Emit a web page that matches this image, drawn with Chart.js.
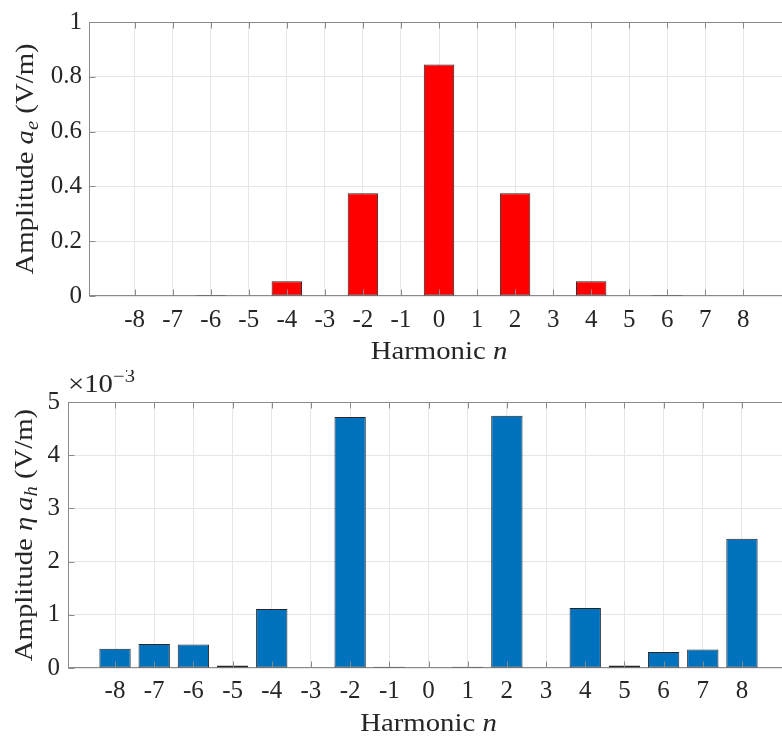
<!DOCTYPE html>
<html>
<head>
<meta charset="utf-8">
<title>Harmonic amplitudes</title>
<script src="https://cdn.jsdelivr.net/npm/chart.js@4.4.1/dist/chart.umd.min.js"></script>
<style>
  html, body { margin: 0; padding: 0; background: #ffffff; }
  #page { position: relative; width: 782px; height: 740px; overflow: hidden; }
  #page canvas { position: absolute; left: 0; }
  #electric { top: 0; }
  #magnetic { top: 370px; }
</style>
</head>
<body>
<div id="page">
  <canvas id="electric" width="800" height="370"></canvas>
  <canvas id="magnetic" width="800" height="370"></canvas>
</div>
<script>
// Harmonic orders shown on both panels
const harmonics = [-8, -7, -6, -5, -4, -3, -2, -1, 0, 1, 2, 3, 4, 5, 6, 7, 8];

// Electric amplitude a_e (V/m) per harmonic
const electricAmplitude = [0, 0, 0.004, 0, 0.054, 0, 0.375, 0, 0.845, 0, 0.375, 0, 0.054, 0, 0.004, 0, 0];

// Scaled magnetic amplitude eta*a_h, in units of 1e-3 V/m
const magneticAmplitude = [0.36, 0.45, 0.44, 0.045, 1.11, 0, 4.72, 0.022, 0, 0.022, 4.74, 0, 1.13, 0.045, 0.30, 0.35, 2.43];

// Y tick values
const electricTicks = [0, 0.2, 0.4, 0.6, 0.8, 1];
const magneticTicks = [0, 1, 2, 3, 4, 5];

const FONT = "'Liberation Serif', 'Times New Roman', serif";
const TEXT_COLOR = '#262626';
const AXIS_COLOR = '#8a8a8a';
const GRID_COLOR = '#e6e6e6';
const EDGE_COLOR = '#262626';
const TICK_LEN = 6;
const TITLE_STRETCH = 1.15;

function edges(a) {
  return {
    L: Math.round(a.left) + 0.5, R: Math.round(a.right) - 0.5,
    T: Math.round(a.top) + 0.5, B: Math.round(a.bottom) - 0.5
  };
}

// Box around the plot area (under the bars) and inward tick marks (over the bars)
const framePlugin = {
  id: 'frame',
  beforeDatasetsDraw(chart) {
    const { ctx, chartArea } = chart;
    const { L, R, T, B } = edges(chartArea);
    ctx.save();
    ctx.strokeStyle = AXIS_COLOR;
    ctx.lineWidth = 1;
    ctx.strokeRect(L, T, R - L, B - T);
    ctx.restore();
  },
  afterDatasetsDraw(chart) {
    const { ctx, chartArea, scales: { x, y } } = chart;
    const { L, R, T, B } = edges(chartArea);
    ctx.save();
    ctx.strokeStyle = AXIS_COLOR;
    ctx.lineWidth = 1;
    ctx.beginPath();
    x.ticks.forEach(t => {
      const px = Math.round(x.getPixelForValue(t.value)) + 0.5;
      ctx.moveTo(px, B); ctx.lineTo(px, B - TICK_LEN);
      ctx.moveTo(px, T); ctx.lineTo(px, T + TICK_LEN);
    });
    y.ticks.forEach(t => {
      const py = Math.round(y.getPixelForValue(t.value)) + 0.5;
      ctx.moveTo(L, py); ctx.lineTo(L + TICK_LEN, py);
      ctx.moveTo(R, py); ctx.lineTo(R - TICK_LEN, py);
    });
    ctx.stroke();
    ctx.restore();
  }
};

// Writes a run of differently styled text pieces, centred on (x, y)
function drawRun(ctx, parts, x, y, angle, align) {
  ctx.save();
  ctx.translate(x, y);
  ctx.rotate(angle);
  ctx.scale(TITLE_STRETCH, 1);
  ctx.fillStyle = TEXT_COLOR;
  ctx.textBaseline = 'alphabetic';
  ctx.textAlign = 'left';
  let total = 0;
  parts.forEach(p => {
    ctx.font = p.font;
    p.w = ctx.measureText(p.text).width;
    total += p.w;
  });
  let cx = align === 'left' ? 0 : -total / 2;
  parts.forEach(p => {
    ctx.font = p.font;
    ctx.fillText(p.text, cx, p.dy || 0);
    cx += p.w;
  });
  ctx.restore();
}

// Axis titles with italic symbols and sub/superscripts
const titlesPlugin = {
  id: 'titles',
  afterDraw(chart, args, opts) {
    const { ctx, chartArea: a } = chart;
    drawRun(ctx, opts.xTitle, (a.left + a.right) / 2, opts.xBaseline, 0);
    drawRun(ctx, opts.yTitle, opts.yBaseline, (a.top + a.bottom) / 2, -Math.PI / 2);
    if (opts.exponent) {
      drawRun(ctx, opts.exponent, a.left, opts.exponentBaseline, 0, 'left');
    }
  }
};

const up = (s) => `${s}px ${FONT}`;
const it = (s) => `italic ${s}px ${FONT}`;

function makePanel(canvasId, values, yTicks, color, frame, titles) {
  return new Chart(document.getElementById(canvasId), {
    type: 'bar',
    data: {
      datasets: [{
        data: harmonics.map((h, i) => ({ x: h, y: values[i] })),
        backgroundColor: color,
        borderColor: EDGE_COLOR,
        borderWidth: 1,
        borderSkipped: false,
        barPercentage: 0.8,
        categoryPercentage: 1
      }]
    },
    options: {
      responsive: false,
      animation: false,
      events: [],
      layout: { padding: { top: frame.top, right: frame.right, left: 0, bottom: 0 } },
      plugins: {
        legend: { display: false },
        tooltip: { enabled: false },
        titles
      },
      scales: {
        x: {
          type: 'linear',
          min: -9.2,
          max: 9.2,
          offset: false,
          afterBuildTicks: s => { s.ticks = harmonics.map(v => ({ value: v })); },
          afterFit: s => { s.height = frame.xHeight; },
          grid: { color: GRID_COLOR, drawTicks: false, offset: false },
          border: { display: false },
          ticks: {
            color: TEXT_COLOR,
            font: { family: FONT, size: 25 },
            padding: frame.xPad,
            maxRotation: 0,
            autoSkip: false,
            callback: v => String(v)
          }
        },
        y: {
          min: yTicks[0],
          max: yTicks[yTicks.length - 1],
          afterBuildTicks: s => { s.ticks = yTicks.map(v => ({ value: v })); },
          afterFit: s => { s.width = frame.yWidth; },
          grid: { color: GRID_COLOR, drawTicks: false },
          border: { display: false },
          ticks: {
            color: TEXT_COLOR,
            font: { family: FONT, size: 25 },
            padding: frame.yPad,
            callback: v => String(v)
          }
        }
      }
    },
    plugins: [framePlugin, titlesPlugin]
  });
}

makePanel('electric', electricAmplitude, electricTicks, '#ff0000',
  { top: 17, right: 11, xHeight: 74, yWidth: 89, xPad: 9, yPad: 7 },
  {
    xTitle: [{ text: 'Harmonic ', font: up(25) }, { text: 'n', font: it(25) }],
    xBaseline: 359,
    yTitle: [
      { text: 'Amplitude ', font: up(25) },
      { text: 'a', font: it(25) },
      { text: 'e', font: it(18), dy: 5 },
      { text: ' (V/m)', font: up(25) }
    ],
    yBaseline: 33
  });

makePanel('magnetic', magneticAmplitude, magneticTicks, '#0072bd',
  { top: 32, right: 11, xHeight: 72, yWidth: 68, xPad: 8, yPad: 8 },
  {
    xTitle: [{ text: 'Harmonic ', font: up(25) }, { text: 'n', font: it(25) }],
    xBaseline: 361,
    yTitle: [
      { text: 'Amplitude ', font: up(25) },
      { text: 'η', font: it(25) },
      { text: '\u2009a', font: it(25) },
      { text: 'h', font: it(18), dy: 5 },
      { text: ' (V/m)', font: up(25) }
    ],
    yBaseline: 32,
    exponent: [
      { text: '×10', font: up(25) },
      { text: '−3', font: up(18), dy: -10 }
    ],
    exponentBaseline: 22
  });
</script>
</body>
</html>
